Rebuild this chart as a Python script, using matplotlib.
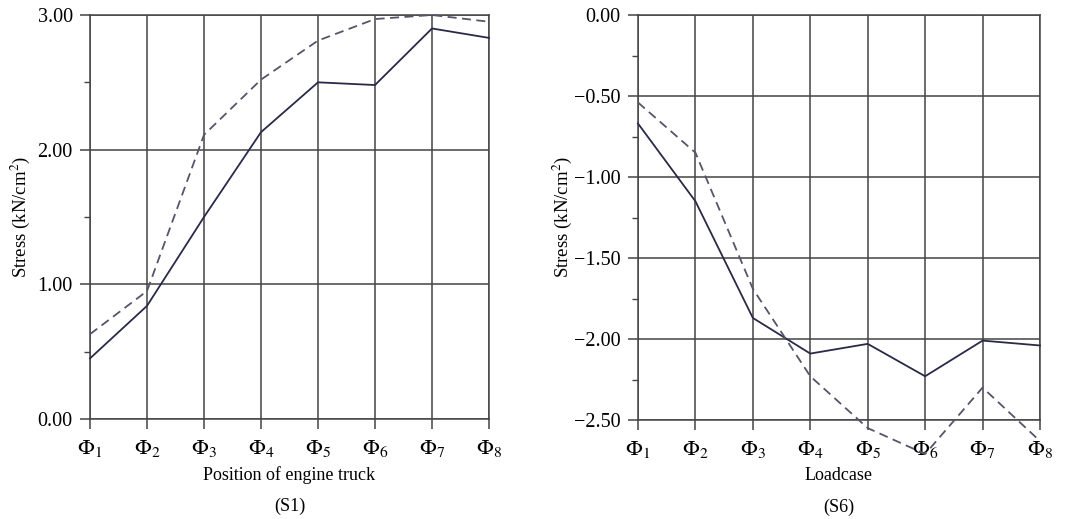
import matplotlib
matplotlib.use("Agg")
import matplotlib.pyplot as plt
import numpy as np

plt.rcParams['font.family'] = ['Liberation Serif', 'DejaVu Serif']
plt.rcParams['mathtext.fontset'] = 'stix'

positions = [1, 2, 3, 4, 5, 6, 7, 8]
tick_labels = [r'$\Phi_{%d}$' % i for i in positions]

s1_solid = [0.45, 0.84, 1.50, 2.13, 2.50, 2.48, 2.90, 2.83]
s1_dashed = [0.63, 0.95, 2.11, 2.52, 2.81, 2.97, 3.00, 2.95]

s6_solid = [-0.67, -1.15, -1.87, -2.09, -2.03, -2.23, -2.01, -2.04]
s6_dashed = [-0.54, -0.85, -1.69, -2.23, -2.55, -2.71, -2.30, -2.63]

s1_yticks = [0.0, 1.0, 2.0, 3.0]
s6_yticks = [0.0, -0.5, -1.0, -1.5, -2.0, -2.5]

fig = plt.figure(figsize=(10.65, 5.19), dpi=100)
ax1 = fig.add_axes([90/1065, 100/519, 399/1065, 404/519])
ax2 = fig.add_axes([638/1065, 99/519, 402/1065, 405/519])

grid_c = '#444444'
solid_c = '#2a2a48'
dash_c = '#55556a'

def style(ax, yticks, ylim, minor, xlabel, caption):
    ax.set_xlim(1, 8)
    ax.set_ylim(*ylim)
    ax.set_xticks(positions)
    ax.set_xticklabels(tick_labels, fontsize=16)
    ax.set_yticks(yticks)
    ax.set_yticklabels(['%.2f' % v if v >= 0 else '\u2212%.2f' % abs(v) for v in yticks], fontsize=14.5)
    ax.set_yticks(minor, minor=True)
    ax.grid(True, which='major', color=grid_c, linewidth=1.1)
    for s in ax.spines.values():
        s.set_color(grid_c)
        s.set_linewidth(1.1)
    ax.tick_params(axis='both', which='major', direction='out', length=7.5, width=1.1,
                   color=grid_c, pad=5)
    ax.tick_params(axis='x', pad=6)
    ax.tick_params(axis='y', which='minor', direction='out', length=4, width=1.0, color=grid_c)
    ax.set_xlabel(xlabel, fontsize=13, labelpad=5)
    ax.set_ylabel('Stress (kN/cm$^2$)', fontsize=13.5)
    ax.text(0.5, -0.215, caption, transform=ax.transAxes, ha='center', va='center', fontsize=13)

ax1.plot(positions, s1_solid, color=solid_c, linewidth=1.3, clip_on=False, zorder=3)
ax1.plot(positions, s1_dashed, color=dash_c, linewidth=1.3, linestyle=(0, (5, 3)), clip_on=False, zorder=3)
style(ax1, s1_yticks, (0, 3), [0.5, 1.5, 2.5], 'Position of engine truck', '(S1)')
ax1.yaxis.set_label_coords(-0.145, 0.5)

ax2.plot(positions, s6_solid, color=solid_c, linewidth=1.3, clip_on=False, zorder=3)
ax2.plot(positions, s6_dashed, color=dash_c, linewidth=1.3, linestyle=(0, (5, 3)), clip_on=False, zorder=3)
style(ax2, s6_yticks, (-2.5, 0), [-0.25, -0.75, -1.25, -1.75, -2.25], 'Loadcase', '(S6)')
ax2.yaxis.set_label_coords(-0.158, 0.5)

fig.savefig('out.png', dpi=100)
